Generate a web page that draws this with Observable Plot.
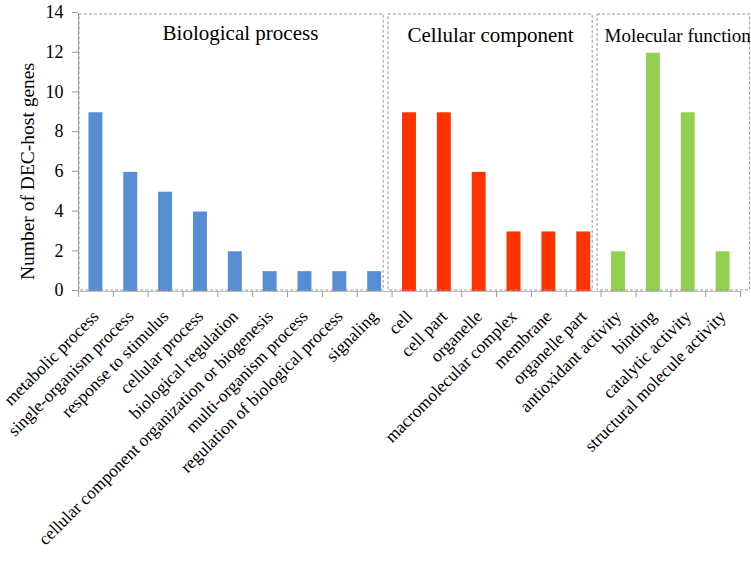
<!DOCTYPE html>
<html><head><meta charset="utf-8">
<script src="https://cdn.jsdelivr.net/npm/d3@7"></script>
<script src="https://cdn.jsdelivr.net/npm/@observablehq/plot@0.6"></script>
<style>body{margin:0;background:#fff} svg text{font-family:"Liberation Serif","Times New Roman",serif}</style>
</head><body><div id="chart"></div>
<script>
const bpTerms = ["metabolic process","single-organism process","response to stimulus","cellular process","biological regulation","cellular component organization or biogenesis","multi-organism process","regulation of biological process","signaling"];
const bpCounts = [9,6,5,4,2,1,1,1,1];
const ccTerms = ["cell","cell part","organelle","macromolecular complex","membrane","organelle part"];
const ccCounts = [9,9,6,3,3,3];
const mfTerms = ["antioxidant activity","binding","catalytic activity","structural molecule activity"];
const mfCounts = [2,12,9,2];
const groupNames = ["Biological process","Cellular component","Molecular function"];
const groupColors = ["#558ED5","#FF3300","#92D050"];
const yTicks = [0,2,4,6,8,10,12,14];
const yLabel = "Number of DEC-host genes";

const groupTerms = [bpTerms, ccTerms, mfTerms];
const groupCounts = [bpCounts, ccCounts, mfCounts];
const data = groupTerms.flatMap((terms, g) => terms.map((t, i) => ({term: t, count: groupCounts[g][i], group: groupNames[g]})));
const cats = data.map(d => d.term);
const groups = groupNames.map((name, g) => ({name, first: groupTerms[g][0], last: groupTerms[g][groupTerms[g].length - 1]}));

const W = 751, H = 571, mL = 78, mR = 11, mT = 13, mB = 280;
const step = (W - mL - mR) / cats.length;
const font = "Liberation Serif";
const boxStyle = {x1: "first", x2: "last", y1: 0, y2: 14, fill: "none", stroke: "#999", strokeDasharray: "3,2", strokeWidth: 1};

const chart = Plot.plot({
  width: W, height: H,
  marginLeft: mL, marginRight: mR, marginTop: mT, marginBottom: mB,
  style: {fontFamily: font, color: "#000", background: "#fff", overflow: "visible"},
  x: {domain: cats, paddingInner: 0.6, paddingOuter: 0.3, round: false, axis: null},
  y: {domain: [0, 14], axis: null},
  color: {domain: groupNames, range: groupColors},
  marks: [
    Plot.frame({anchor: "left", stroke: "#999"}),
    Plot.frame({anchor: "bottom", stroke: "#bbb"}),
    Plot.barY(data, {x: "term", y: "count", fill: "group"}),
    Plot.rect([groups[0]], {...boxStyle, insetLeft: -9.5, insetRight: -2, insetTop: 1, insetBottom: 1}),
    Plot.rect([groups[1]], {...boxStyle, insetLeft: -14, insetRight: -2, insetTop: 1, insetBottom: 1}),
    Plot.rect([groups[2]], {...boxStyle, insetLeft: -14, insetRight: -20, insetTop: 1, insetBottom: 1}),
    Plot.axisY({ticks: yTicks, tickSize: 6, tickPadding: 9, stroke: "#999", fill: "#000", fontSize: 18, fontFamily: font, dy: -1, label: null}),
    Plot.axisX({tickFormat: () => "", tickSize: 6, dx: -step / 2, stroke: "#999", label: null}),
    Plot.axisX({ticks: [cats[cats.length - 1]], tickFormat: () => "", tickSize: 6, dx: step / 2, stroke: "#999", label: null}),
    Plot.axisX({tickSize: 0, tickRotate: -45, tickPadding: 22, fontSize: 17.5, fontFamily: font, fill: "#000", label: null}),
    Plot.text([groups[0]], {x: () => bpTerms[2], text: "name", frameAnchor: "top", textAnchor: "start", dx: -3, dy: 12, fontSize: 21, fontFamily: font}),
    Plot.text([groups[1]], {x: () => ccTerms[0], text: "name", frameAnchor: "top", textAnchor: "start", dx: -2, dy: 14, fontSize: 21, fontFamily: font}),
    Plot.text([groups[2]], {x: () => mfTerms[0], text: "name", frameAnchor: "top", textAnchor: "start", dx: -14, dy: 15, fontSize: 19, fontFamily: font}),
    Plot.text([yLabel], {frameAnchor: "left", textAnchor: "middle", rotate: -90, dx: -51, dy: 19, fontSize: 19.5, fontFamily: font})
  ]
});
document.getElementById("chart").append(chart);
</script>
</body></html>
